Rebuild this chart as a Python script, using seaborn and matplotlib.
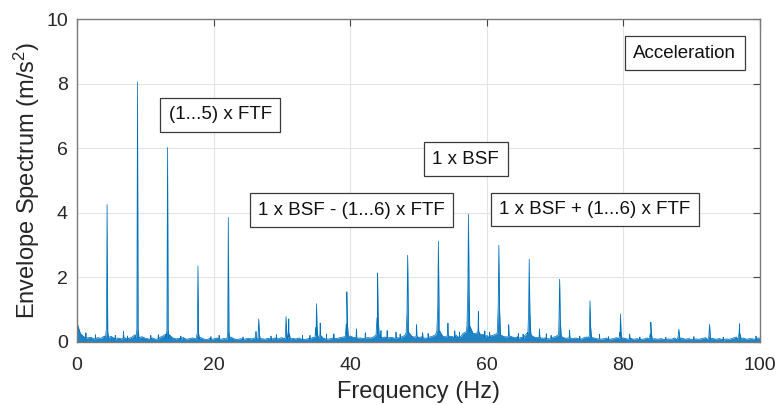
import numpy as np
import pandas as pd
import matplotlib
matplotlib.use("Agg")
import matplotlib.pyplot as plt
import seaborn as sns

# ---------------- data ----------------
# main spectral lines: harmonics of FTF, BSF and its FTF sidebands
peak_freq = [4.4, 8.85, 13.25, 17.7, 22.15, 26.6, 30.6, 31.0, 35.05, 39.5, 44.0, 48.4,
             52.9, 57.3, 61.75, 66.2, 70.65, 75.1, 79.55, 84.0, 88.1, 92.6, 97.0]
peak_amp = [4.25, 8.05, 6.02, 2.35, 3.85, 0.71, 0.78, 0.71, 1.18, 1.55, 2.13, 2.68,
            3.12, 3.95, 2.99, 2.56, 1.94, 1.27, 0.86, 0.61, 0.39, 0.54, 0.56]
peak_skirt = [0.45, 0.40, 0.38, 0.28, 0.30, 0.25, 0.30, 0.25, 0.45, 0.55, 0.75, 0.95,
              1.10, 1.60, 1.10, 0.95, 0.70, 0.45, 0.30, 0.25, 0.20, 0.22, 0.25]

# smaller secondary lines
side_freq = [6.8, 10.8, 26.2, 33.0, 35.6, 36.5, 40.9, 44.5, 45.4, 49.7, 54.3, 55.3,
             58.75, 63.2, 67.7, 68.7, 72.1, 76.5, 80.9]
side_amp = [0.32, 0.20, 0.32, 0.20, 0.58, 0.24, 0.40, 0.35, 0.35, 0.53, 0.58, 0.34,
            0.94, 0.53, 0.40, 0.25, 0.36, 0.24, 0.24]

# little noise spikes on the floor
noise_freq = [1.3, 2.7, 5.6, 7.4, 11.9, 15.2, 19.6, 20.8, 24.3, 28.4, 29.2, 34.1,
              37.6, 42.2, 46.7, 47.3, 50.6, 51.4, 56.0, 59.7, 60.4, 64.6, 65.3,
              69.4, 73.6, 77.8, 82.4, 86.2, 90.3, 94.6, 99.4]
noise_amp = [0.28, 0.22, 0.20, 0.18, 0.22, 0.18, 0.16, 0.20, 0.15, 0.18, 0.22, 0.20,
             0.25, 0.28, 0.30, 0.24, 0.28, 0.26, 0.30, 0.34, 0.30, 0.26, 0.24,
             0.20, 0.18, 0.16, 0.15, 0.14, 0.16, 0.14, 0.18]

# noise floor, every 0.5 Hz from 0 to 100 Hz
floor_freq = [i * 0.5 for i in range(201)]
floor_amp = [
    0.58, 0.25, 0.16, 0.12, 0.14, 0.09, 0.13, 0.11, 0.18, 0.30,
    0.17, 0.10, 0.12, 0.09, 0.13, 0.10, 0.14, 0.22, 0.28, 0.16,
    0.11, 0.09, 0.12, 0.08, 0.13, 0.17, 0.24, 0.22, 0.12, 0.09,
    0.11, 0.14, 0.08, 0.10, 0.12, 0.18, 0.14, 0.09, 0.07, 0.11,
    0.09, 0.12, 0.08, 0.10, 0.16, 0.15, 0.09, 0.07, 0.10, 0.08,
    0.11, 0.09, 0.12, 0.14, 0.10, 0.08, 0.11, 0.09, 0.12, 0.10,
    0.13, 0.16, 0.15, 0.11, 0.09, 0.12, 0.10, 0.08, 0.11, 0.14,
    0.20, 0.18, 0.12, 0.10, 0.09, 0.12, 0.10, 0.13, 0.15, 0.22,
    0.18, 0.13, 0.11, 0.12, 0.10, 0.13, 0.12, 0.16, 0.24, 0.20,
    0.15, 0.12, 0.14, 0.11, 0.13, 0.15, 0.20, 0.25, 0.17, 0.14,
    0.13, 0.16, 0.12, 0.14, 0.17, 0.22, 0.26, 0.18, 0.15, 0.17,
    0.16, 0.20, 0.22, 0.26, 0.32, 0.30, 0.25, 0.27, 0.24, 0.22,
    0.20, 0.18, 0.21, 0.26, 0.22, 0.16, 0.15, 0.17, 0.13, 0.15,
    0.14, 0.18, 0.24, 0.20, 0.14, 0.13, 0.11, 0.12, 0.10, 0.13,
    0.16, 0.22, 0.15, 0.11, 0.12, 0.10, 0.12, 0.09, 0.11, 0.15,
    0.20, 0.13, 0.10, 0.11, 0.09, 0.12, 0.08, 0.10, 0.13, 0.18,
    0.12, 0.09, 0.11, 0.08, 0.10, 0.07, 0.09, 0.12, 0.16, 0.10,
    0.08, 0.10, 0.07, 0.09, 0.08, 0.12, 0.18, 0.12, 0.08, 0.10,
    0.07, 0.09, 0.08, 0.10, 0.13, 0.18, 0.11, 0.08, 0.10, 0.07,
    0.09, 0.08, 0.11, 0.15, 0.20, 0.12, 0.08, 0.10, 0.09, 0.11,
    0.12,
]

x_ticks = [0, 20, 40, 60, 80, 100]
y_ticks = [0, 2, 4, 6, 8, 10]

labels = ["(1...5) x FTF", "1 x BSF", "1 x BSF - (1...6) x FTF",
          "1 x BSF + (1...6) x FTF", "Acceleration"]
label_x = [21.0, 56.9, 40.2, 75.8, 89.0]
label_y = [7.04, 5.66, 4.08, 4.10, 8.94]

# ---------------- build the spectrum table ----------------
rows_f, rows_a = list(floor_freq), list(floor_amp)
for f, a, s in zip(peak_freq, peak_amp, peak_skirt):
    rows_f += [f - 0.22, f - 0.09, f, f + 0.09, f + 0.22]
    rows_a += [s * 0.3, s, a, s, s * 0.3]
for f, a in zip(side_freq, side_amp):
    rows_f += [f - 0.05, f, f + 0.05]
    rows_a += [a * 0.35, a, a * 0.35]
for f, a in zip(noise_freq, noise_amp):
    rows_f += [f - 0.04, f, f + 0.04]
    rows_a += [a * 0.4, a, a * 0.4]
df = pd.DataFrame({"Frequency": rows_f, "Amplitude": rows_a}).sort_values("Frequency")

# ---------------- style ----------------
sns.set_theme(style="white")
plt.rcParams["font.family"] = ["Liberation Sans", "DejaVu Sans"]
plt.rcParams["mathtext.fontset"] = "custom"
plt.rcParams["mathtext.rm"] = "Liberation Sans"
plt.rcParams["mathtext.it"] = "Liberation Sans:italic"

blue = "#0072BD"
frame = "#7a7a7a"
txt = "#262626"

fig = plt.figure(figsize=(7.78, 4.05), dpi=100)
ax = fig.add_axes([0.099, 0.156, 0.878, 0.797])

ax.fill_between(df["Frequency"], 0, df["Amplitude"], color=blue, alpha=0.88, lw=0)
sns.lineplot(data=df, x="Frequency", y="Amplitude", ax=ax, color=blue, lw=0.55,
             estimator=None, sort=False)

ax.set_xlim(0, 100)
ax.set_ylim(0, 10)
ax.set_xticks(x_ticks)
ax.set_yticks(y_ticks)
ax.grid(True, color="#e3e3e3", lw=0.8)
ax.set_axisbelow(True)
for sp in ax.spines.values():
    sp.set_color(frame)
    sp.set_linewidth(1.0)
ax.tick_params(direction="in", top=True, right=True, length=5, width=0.8,
               color="#444444", labelsize=14, labelcolor=txt)
ax.tick_params(axis="x", pad=11)
ax.tick_params(axis="y", pad=6.5)

ax.set_xlabel("Frequency (Hz)", fontsize=17, color=txt, labelpad=5)
ax.set_ylabel("Envelope Spectrum (m/s$^2$)", fontsize=17, color=txt, labelpad=3)

for t, x, y in zip(labels, label_x, label_y):
    ax.text(x, y, t, ha="center", va="center", fontsize=13.5, color="#111111",
            bbox=dict(boxstyle="square,pad=0.45", fc="white", ec="#3a3a3a", lw=0.9))

fig.savefig("out.png", dpi=100)
